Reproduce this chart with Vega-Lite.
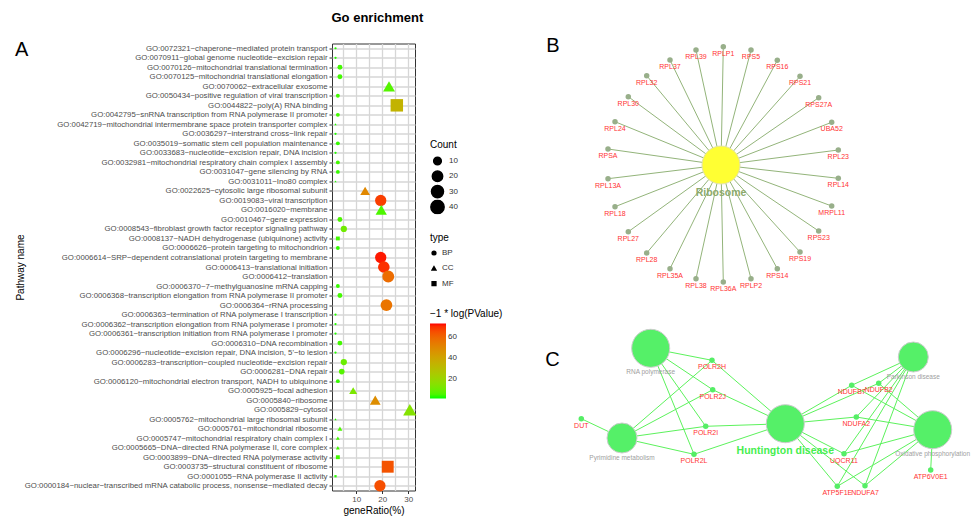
{
  "$schema": "https://vega.github.io/schema/vega-lite/v6.json",
  "background": "white",
  "padding": {"left": 14, "top": 11.5, "right": 0, "bottom": 0},
  "config": {
    "font": "Liberation Sans",
    "view": {"stroke": null},
    "title": {"font": "Liberation Sans"}
  },
  "title": {"text": "Go enrichment", "anchor": "start", "dx": 317, "fontSize": 13, "fontWeight": "bold", "offset": 11, "color": "black"},
  "datasets": {
    "go": [
      {"term": "GO:0072321~chaperone−mediated protein transport", "type": "BP", "geneRatio": 2.0, "Count": 3, "logP": 2},
      {"term": "GO:0070911~global genome nucleotide−excision repair", "type": "BP", "geneRatio": 2.0, "Count": 3, "logP": 2},
      {"term": "GO:0070126~mitochondrial translational termination", "type": "BP", "geneRatio": 3.7, "Count": 5, "logP": 4},
      {"term": "GO:0070125~mitochondrial translational elongation", "type": "BP", "geneRatio": 3.7, "Count": 5, "logP": 4},
      {"term": "GO:0070062~extracellular exosome", "type": "CC", "geneRatio": 22.6, "Count": 29, "logP": 6},
      {"term": "GO:0050434~positive regulation of viral transcription", "type": "BP", "geneRatio": 2.9, "Count": 4, "logP": 4},
      {"term": "GO:0044822~poly(A) RNA binding", "type": "MF", "geneRatio": 25.6, "Count": 33, "logP": 34},
      {"term": "GO:0042795~snRNA transcription from RNA polymerase II promoter", "type": "BP", "geneRatio": 2.9, "Count": 4, "logP": 4},
      {"term": "GO:0042719~mitochondrial intermembrane space protein transporter complex", "type": "CC", "geneRatio": 2.0, "Count": 3, "logP": 2},
      {"term": "GO:0036297~interstrand cross−link repair", "type": "BP", "geneRatio": 2.0, "Count": 3, "logP": 2},
      {"term": "GO:0035019~somatic stem cell population maintenance", "type": "BP", "geneRatio": 2.9, "Count": 4, "logP": 3},
      {"term": "GO:0033683~nucleotide−excision repair, DNA incision", "type": "BP", "geneRatio": 2.0, "Count": 3, "logP": 2},
      {"term": "GO:0032981~mitochondrial respiratory chain complex I assembly", "type": "BP", "geneRatio": 2.9, "Count": 4, "logP": 4},
      {"term": "GO:0031047~gene silencing by RNA", "type": "BP", "geneRatio": 2.9, "Count": 4, "logP": 3},
      {"term": "GO:0031011~Ino80 complex", "type": "CC", "geneRatio": 2.0, "Count": 3, "logP": 2},
      {"term": "GO:0022625~cytosolic large ribosomal subunit", "type": "CC", "geneRatio": 13.4, "Count": 17, "logP": 50},
      {"term": "GO:0019083~viral transcription", "type": "BP", "geneRatio": 19.4, "Count": 25, "logP": 68},
      {"term": "GO:0016020~membrane", "type": "CC", "geneRatio": 19.6, "Count": 25, "logP": 5},
      {"term": "GO:0010467~gene expression", "type": "BP", "geneRatio": 3.7, "Count": 5, "logP": 5},
      {"term": "GO:0008543~fibroblast growth factor receptor signaling pathway", "type": "BP", "geneRatio": 5.2, "Count": 7, "logP": 10},
      {"term": "GO:0008137~NADH dehydrogenase (ubiquinone) activity", "type": "MF", "geneRatio": 2.9, "Count": 4, "logP": 4},
      {"term": "GO:0006626~protein targeting to mitochondrion", "type": "BP", "geneRatio": 2.9, "Count": 4, "logP": 3},
      {"term": "GO:0006614~SRP−dependent cotranslational protein targeting to membrane", "type": "BP", "geneRatio": 19.4, "Count": 25, "logP": 72},
      {"term": "GO:0006413~translational initiation", "type": "BP", "geneRatio": 20.6, "Count": 27, "logP": 70},
      {"term": "GO:0006412~translation", "type": "BP", "geneRatio": 22.3, "Count": 29, "logP": 58},
      {"term": "GO:0006370~7−methylguanosine mRNA capping", "type": "BP", "geneRatio": 2.9, "Count": 4, "logP": 3},
      {"term": "GO:0006368~transcription elongation from RNA polymerase II promoter", "type": "BP", "geneRatio": 3.7, "Count": 5, "logP": 4},
      {"term": "GO:0006364~rRNA processing", "type": "BP", "geneRatio": 21.6, "Count": 28, "logP": 56},
      {"term": "GO:0006363~termination of RNA polymerase I transcription", "type": "BP", "geneRatio": 2.0, "Count": 3, "logP": 2},
      {"term": "GO:0006362~transcription elongation from RNA polymerase I promoter", "type": "BP", "geneRatio": 2.0, "Count": 3, "logP": 2},
      {"term": "GO:0006361~transcription initiation from RNA polymerase I promoter", "type": "BP", "geneRatio": 2.0, "Count": 3, "logP": 2},
      {"term": "GO:0006310~DNA recombination", "type": "BP", "geneRatio": 3.7, "Count": 5, "logP": 4},
      {"term": "GO:0006296~nucleotide−excision repair, DNA incision, 5'−to lesion", "type": "BP", "geneRatio": 2.0, "Count": 3, "logP": 2},
      {"term": "GO:0006283~transcription−coupled nucleotide−excision repair", "type": "BP", "geneRatio": 5.2, "Count": 7, "logP": 9},
      {"term": "GO:0006281~DNA repair", "type": "BP", "geneRatio": 4.4, "Count": 6, "logP": 6},
      {"term": "GO:0006120~mitochondrial electron transport, NADH to ubiquinone", "type": "BP", "geneRatio": 2.9, "Count": 4, "logP": 3},
      {"term": "GO:0005925~focal adhesion", "type": "CC", "geneRatio": 8.8, "Count": 11, "logP": 12},
      {"term": "GO:0005840~ribosome", "type": "CC", "geneRatio": 17.3, "Count": 22, "logP": 48},
      {"term": "GO:0005829~cytosol", "type": "CC", "geneRatio": 30.6, "Count": 40, "logP": 14},
      {"term": "GO:0005762~mitochondrial large ribosomal subunit", "type": "CC", "geneRatio": 2.0, "Count": 3, "logP": 2},
      {"term": "GO:0005761~mitochondrial ribosome", "type": "CC", "geneRatio": 3.7, "Count": 5, "logP": 5},
      {"term": "GO:0005747~mitochondrial respiratory chain complex I", "type": "CC", "geneRatio": 2.9, "Count": 4, "logP": 4},
      {"term": "GO:0005665~DNA−directed RNA polymerase II, core complex", "type": "CC", "geneRatio": 2.9, "Count": 4, "logP": 4},
      {"term": "GO:0003899~DNA−directed RNA polymerase activity", "type": "MF", "geneRatio": 2.9, "Count": 4, "logP": 4},
      {"term": "GO:0003735~structural constituent of ribosome", "type": "MF", "geneRatio": 22.1, "Count": 29, "logP": 64},
      {"term": "GO:0001055~RNA polymerase II activity", "type": "MF", "geneRatio": 2.0, "Count": 3, "logP": 2},
      {"term": "GO:0000184~nuclear−transcribed mRNA catabolic process, nonsense−mediated decay", "type": "BP", "geneRatio": 19.1, "Count": 25, "logP": 65}
    ],
    "nodes": [
      {"id": "Ribosome", "panel": "B", "kind": "pathway", "tier": "large", "x": 721, "y": 164},
      {"id": "RPLP1", "panel": "B", "kind": "gene", "x": 723.3, "y": 45.7},
      {"id": "RPS5", "panel": "B", "kind": "gene", "x": 751, "y": 49},
      {"id": "RPS16", "panel": "B", "kind": "gene", "x": 777.3, "y": 59.3},
      {"id": "RPS21", "panel": "B", "kind": "gene", "x": 800, "y": 75.3},
      {"id": "RPS27A", "panel": "B", "kind": "gene", "x": 818.7, "y": 96.7},
      {"id": "UBA52", "panel": "B", "kind": "gene", "x": 831.7, "y": 121.3},
      {"id": "RPL23", "panel": "B", "kind": "gene", "x": 838.3, "y": 149},
      {"id": "RPL14", "panel": "B", "kind": "gene", "x": 838.3, "y": 177.3},
      {"id": "MRPL11", "panel": "B", "kind": "gene", "x": 831.7, "y": 205},
      {"id": "RPS23", "panel": "B", "kind": "gene", "x": 818.7, "y": 230},
      {"id": "RPS19", "panel": "B", "kind": "gene", "x": 800, "y": 251},
      {"id": "RPS14", "panel": "B", "kind": "gene", "x": 777.3, "y": 267.7},
      {"id": "RPLP2", "panel": "B", "kind": "gene", "x": 751, "y": 277.7},
      {"id": "RPL36A", "panel": "B", "kind": "gene", "x": 723.3, "y": 281},
      {"id": "RPL38", "panel": "B", "kind": "gene", "x": 696, "y": 277.7},
      {"id": "RPL35A", "panel": "B", "kind": "gene", "x": 670, "y": 267.7},
      {"id": "RPL28", "panel": "B", "kind": "gene", "x": 646.7, "y": 252},
      {"id": "RPL27", "panel": "B", "kind": "gene", "x": 628.3, "y": 230.7},
      {"id": "RPL18", "panel": "B", "kind": "gene", "x": 615, "y": 205.7},
      {"id": "RPL13A", "panel": "B", "kind": "gene", "x": 608, "y": 177.7},
      {"id": "RPSA", "panel": "B", "kind": "gene", "x": 608, "y": 148},
      {"id": "RPL24", "panel": "B", "kind": "gene", "x": 615, "y": 120.7},
      {"id": "RPL30", "panel": "B", "kind": "gene", "x": 628.3, "y": 95.7},
      {"id": "RPL32", "panel": "B", "kind": "gene", "x": 646.7, "y": 74.7},
      {"id": "RPL37", "panel": "B", "kind": "gene", "x": 670, "y": 59},
      {"id": "RPL39", "panel": "B", "kind": "gene", "x": 696, "y": 49},
      {"id": "RNA polymerase", "panel": "C", "kind": "pathway", "tier": "large", "x": 650.7, "y": 347.3},
      {"id": "Pyrimidine metabolism", "panel": "C", "kind": "pathway", "tier": "medium", "x": 622, "y": 437},
      {"id": "Huntington disease", "panel": "C", "kind": "pathway", "tier": "large", "x": 785.3, "y": 422.7},
      {"id": "Parkinson disease", "panel": "C", "kind": "pathway", "tier": "medium", "x": 913.3, "y": 356},
      {"id": "Oxidative phosphorylation", "panel": "C", "kind": "pathway", "tier": "large", "x": 932.7, "y": 428.7},
      {"id": "POLR2H", "panel": "C", "kind": "gene", "x": 712, "y": 359.3},
      {"id": "POLR2J", "panel": "C", "kind": "gene", "x": 712.7, "y": 388.7},
      {"id": "DUT", "panel": "C", "kind": "gene", "x": 581.3, "y": 417.7},
      {"id": "POLR2I", "panel": "C", "kind": "gene", "x": 705.7, "y": 425.3},
      {"id": "POLR2L", "panel": "C", "kind": "gene", "x": 694, "y": 453.3},
      {"id": "NDUFB7", "panel": "C", "kind": "gene", "x": 851.7, "y": 384.3},
      {"id": "NDUFB2", "panel": "C", "kind": "gene", "x": 878.7, "y": 382.3},
      {"id": "NDUFA2", "panel": "C", "kind": "gene", "x": 856.3, "y": 416},
      {"id": "UQCR11", "panel": "C", "kind": "gene", "x": 844, "y": 452.7},
      {"id": "ATP6V0E1", "panel": "C", "kind": "gene", "x": 930.7, "y": 469},
      {"id": "ATP5F1E", "panel": "C", "kind": "gene", "x": 837.3, "y": 485.3},
      {"id": "NDUFA7", "panel": "C", "kind": "gene", "x": 865, "y": 484.7}
    ],
    "edges": [
      {"source": "Ribosome", "target": "RPLP1", "panel": "B"},
      {"source": "Ribosome", "target": "RPS5", "panel": "B"},
      {"source": "Ribosome", "target": "RPS16", "panel": "B"},
      {"source": "Ribosome", "target": "RPS21", "panel": "B"},
      {"source": "Ribosome", "target": "RPS27A", "panel": "B"},
      {"source": "Ribosome", "target": "UBA52", "panel": "B"},
      {"source": "Ribosome", "target": "RPL23", "panel": "B"},
      {"source": "Ribosome", "target": "RPL14", "panel": "B"},
      {"source": "Ribosome", "target": "MRPL11", "panel": "B"},
      {"source": "Ribosome", "target": "RPS23", "panel": "B"},
      {"source": "Ribosome", "target": "RPS19", "panel": "B"},
      {"source": "Ribosome", "target": "RPS14", "panel": "B"},
      {"source": "Ribosome", "target": "RPLP2", "panel": "B"},
      {"source": "Ribosome", "target": "RPL36A", "panel": "B"},
      {"source": "Ribosome", "target": "RPL38", "panel": "B"},
      {"source": "Ribosome", "target": "RPL35A", "panel": "B"},
      {"source": "Ribosome", "target": "RPL28", "panel": "B"},
      {"source": "Ribosome", "target": "RPL27", "panel": "B"},
      {"source": "Ribosome", "target": "RPL18", "panel": "B"},
      {"source": "Ribosome", "target": "RPL13A", "panel": "B"},
      {"source": "Ribosome", "target": "RPSA", "panel": "B"},
      {"source": "Ribosome", "target": "RPL24", "panel": "B"},
      {"source": "Ribosome", "target": "RPL30", "panel": "B"},
      {"source": "Ribosome", "target": "RPL32", "panel": "B"},
      {"source": "Ribosome", "target": "RPL37", "panel": "B"},
      {"source": "Ribosome", "target": "RPL39", "panel": "B"},
      {"source": "RNA polymerase", "target": "POLR2H", "panel": "C"},
      {"source": "RNA polymerase", "target": "POLR2J", "panel": "C"},
      {"source": "RNA polymerase", "target": "POLR2I", "panel": "C"},
      {"source": "RNA polymerase", "target": "POLR2L", "panel": "C"},
      {"source": "Pyrimidine metabolism", "target": "DUT", "panel": "C"},
      {"source": "Pyrimidine metabolism", "target": "POLR2H", "panel": "C"},
      {"source": "Pyrimidine metabolism", "target": "POLR2J", "panel": "C"},
      {"source": "Pyrimidine metabolism", "target": "POLR2I", "panel": "C"},
      {"source": "Pyrimidine metabolism", "target": "POLR2L", "panel": "C"},
      {"source": "Huntington disease", "target": "POLR2H", "panel": "C"},
      {"source": "Huntington disease", "target": "POLR2J", "panel": "C"},
      {"source": "Huntington disease", "target": "POLR2I", "panel": "C"},
      {"source": "Huntington disease", "target": "POLR2L", "panel": "C"},
      {"source": "Huntington disease", "target": "NDUFB7", "panel": "C"},
      {"source": "Huntington disease", "target": "NDUFB2", "panel": "C"},
      {"source": "Huntington disease", "target": "NDUFA2", "panel": "C"},
      {"source": "Huntington disease", "target": "UQCR11", "panel": "C"},
      {"source": "Huntington disease", "target": "ATP5F1E", "panel": "C"},
      {"source": "Huntington disease", "target": "NDUFA7", "panel": "C"},
      {"source": "Parkinson disease", "target": "NDUFB7", "panel": "C"},
      {"source": "Parkinson disease", "target": "NDUFB2", "panel": "C"},
      {"source": "Parkinson disease", "target": "NDUFA2", "panel": "C"},
      {"source": "Parkinson disease", "target": "UQCR11", "panel": "C"},
      {"source": "Parkinson disease", "target": "ATP5F1E", "panel": "C"},
      {"source": "Parkinson disease", "target": "NDUFA7", "panel": "C"},
      {"source": "Oxidative phosphorylation", "target": "NDUFB7", "panel": "C"},
      {"source": "Oxidative phosphorylation", "target": "NDUFB2", "panel": "C"},
      {"source": "Oxidative phosphorylation", "target": "NDUFA2", "panel": "C"},
      {"source": "Oxidative phosphorylation", "target": "UQCR11", "panel": "C"},
      {"source": "Oxidative phosphorylation", "target": "ATP5F1E", "panel": "C"},
      {"source": "Oxidative phosphorylation", "target": "NDUFA7", "panel": "C"},
      {"source": "Oxidative phosphorylation", "target": "ATP6V0E1", "panel": "C"}
    ],
    "letters": [
      {"letter": "B", "x": 553, "y": 45},
      {"letter": "C", "x": 552.5, "y": 359}
    ]
  },
  "spacing": 86,
  "hconcat": [
    {
      "width": 83,
      "height": 447,
      "title": {"text": "A", "anchor": "start", "frame": "bounds", "fontSize": 20, "fontWeight": "normal", "dy": 20, "color": "black"},
      "view": {"stroke": "#333333", "strokeWidth": 1},
      "data": {"name": "go"},
      "mark": {"type": "point", "filled": true, "opacity": 1},
      "encoding": {
        "y": {
          "field": "term", "type": "nominal", "sort": "descending",
          "scale": {"type": "point", "padding": 0.5},
          "axis": {
            "title": "Pathway name", "titleFontSize": 10, "titleFontWeight": "normal", "titleColor": "black",
            "titleX": -309, "titleY": 223.5, "titleAngle": -90, "titleBaseline": "alphabetic", "titleAlign": "center",
            "labelFontSize": 7.8, "labelColor": "#4D4D4D", "labelLimit": 400, "labelPadding": 2,
            "tickColor": "#333333", "tickSize": 3, "domain": false,
            "grid": true, "gridColor": "#D6D6D6", "gridWidth": 1.3
          }
        },
        "x": {
          "field": "geneRatio", "type": "quantitative",
          "scale": {"domain": [0.65, 32.6], "nice": false, "zero": false},
          "axis": {
            "title": "geneRatio(%)", "titleFontSize": 10, "titleFontWeight": "normal", "titleColor": "black", "titlePadding": 2,
            "values": [5, 10, 15, 20, 25, 30],
            "labelExpr": "datum.value % 10 === 0 ? datum.label : ''",
            "tickOpacity": {"condition": {"test": "datum.value % 10 === 0", "value": 1}, "value": 0},
            "labelFontSize": 8, "labelColor": "#4D4D4D", "tickColor": "#333333", "tickSize": 3, "domain": false,
            "grid": true, "gridColor": "#D6D6D6", "gridWidth": 1.3
          }
        },
        "size": {
          "field": "Count", "type": "quantitative",
          "scale": {"type": "sqrt", "domain": [3, 40], "range": [5, 177], "zero": false},
          "legend": {
            "title": "Count", "orient": "none", "legendX": 98, "legendY": 96, "direction": "vertical",
            "values": [10, 20, 30, 40], "symbolType": "circle", "symbolFillColor": "black", "symbolStrokeColor": "black",
            "clipHeight": 15, "rowPadding": 0.3, "labelFontSize": 8, "labelColor": "#333333",
            "titleFontSize": 10, "titleFontWeight": "normal", "titleColor": "black", "titlePadding": 4
          }
        },
        "shape": {
          "field": "type", "type": "nominal",
          "scale": {"domain": ["BP", "CC", "MF"], "range": ["circle", "triangle-up", "square"]},
          "legend": {
            "title": "type", "orient": "none", "legendX": 98, "legendY": 189, "direction": "vertical",
            "symbolSize": 14, "symbolFillColor": "black", "symbolStrokeColor": "black",
            "clipHeight": 15, "rowPadding": 0.3, "labelFontSize": 8, "labelColor": "#333333",
            "titleFontSize": 10, "titleFontWeight": "normal", "titleColor": "black", "titlePadding": 3
          }
        },
        "color": {
          "field": "logP", "type": "quantitative",
          "scale": {"domain": [1, 73], "range": ["#00FF00", "#FF0000"], "interpolate": "lab"},
          "legend": {
            "title": "−1 * log(PValue)", "orient": "none", "legendX": 98, "legendY": 265, "direction": "vertical",
            "gradientLength": 75, "gradientThickness": 16, "gradientStrokeWidth": 0, "values": [20, 40, 60],
            "labelFontSize": 8, "labelColor": "#333333",
            "titleFontSize": 10, "titleFontWeight": "normal", "titleColor": "black", "titlePadding": 5
          }
        }
      }
    },
    {
      "width": 430,
      "height": 470,
      "view": {"stroke": null},
      "encoding": {
        "x": {"field": "x", "type": "quantitative", "scale": {"domain": [545, 975], "nice": false, "zero": false}, "axis": null},
        "y": {"field": "y", "type": "quantitative", "scale": {"domain": [42.5, 512.5], "nice": false, "zero": false, "reverse": true}, "axis": null}
      },
      "layer": [
        {
          "data": {"name": "edges"},
          "transform": [
            {"filter": "datum.panel === 'B'"},
            {"lookup": "source", "from": {"data": {"name": "nodes"}, "key": "id", "fields": ["x", "y"]}, "as": ["sx", "sy"]},
            {"lookup": "target", "from": {"data": {"name": "nodes"}, "key": "id", "fields": ["x", "y"]}, "as": ["tx", "ty"]}
          ],
          "mark": {"type": "rule", "color": "#93B47A", "strokeWidth": 1},
          "encoding": {
            "x": {"field": "sx", "type": "quantitative"},
            "y": {"field": "sy", "type": "quantitative"},
            "x2": {"field": "tx"},
            "y2": {"field": "ty"}
          }
        },
        {
          "data": {"name": "edges"},
          "transform": [
            {"filter": "datum.panel === 'C'"},
            {"lookup": "source", "from": {"data": {"name": "nodes"}, "key": "id", "fields": ["x", "y"]}, "as": ["sx", "sy"]},
            {"lookup": "target", "from": {"data": {"name": "nodes"}, "key": "id", "fields": ["x", "y"]}, "as": ["tx", "ty"]}
          ],
          "mark": {"type": "rule", "color": "#5CF25C", "strokeWidth": 1},
          "encoding": {
            "x": {"field": "sx", "type": "quantitative"},
            "y": {"field": "sy", "type": "quantitative"},
            "x2": {"field": "tx"},
            "y2": {"field": "ty"}
          }
        },
        {
          "data": {"name": "nodes"},
          "transform": [{"filter": "datum.kind === 'gene' && datum.panel === 'B'"}],
          "mark": {"type": "point", "filled": true, "color": "#98AF8A", "size": 30, "opacity": 1}
        },
        {
          "data": {"name": "nodes"},
          "transform": [{"filter": "datum.kind === 'gene' && datum.panel === 'C'"}],
          "mark": {"type": "point", "filled": true, "color": "#55EE66", "size": 30, "opacity": 1}
        },
        {
          "data": {"name": "nodes"},
          "transform": [{"filter": "datum.kind === 'pathway' && datum.panel === 'B'"}],
          "mark": {"type": "point", "filled": true, "fill": "#FFFF33", "stroke": "#E2E2A8", "strokeWidth": 1, "size": 1444, "opacity": 1}
        },
        {
          "data": {"name": "nodes"},
          "transform": [{"filter": "datum.kind === 'pathway' && datum.panel === 'C'"}],
          "mark": {"type": "point", "filled": true, "fill": "#55F068", "stroke": "#CCCCCC", "strokeWidth": 1, "opacity": 1},
          "encoding": {
            "size": {"field": "tier", "type": "nominal", "scale": {"domain": ["large", "medium"], "range": [1444, 900]}, "legend": null}
          }
        },
        {
          "data": {"name": "nodes"},
          "transform": [{"filter": "datum.kind === 'gene'"}],
          "mark": {"type": "text", "color": "#FF3333", "fontSize": 7, "dy": 7},
          "encoding": {"text": {"field": "id"}}
        },
        {
          "data": {"name": "nodes"},
          "transform": [{"filter": "datum.id === 'Ribosome'"}],
          "mark": {"type": "text", "color": "#8DAA6C", "fontSize": 10.5, "fontWeight": "bold", "dy": 28},
          "encoding": {"text": {"field": "id"}}
        },
        {
          "data": {"name": "nodes"},
          "transform": [{"filter": "datum.panel === 'C' && datum.kind === 'pathway' && datum.tier === 'large' && datum.id !== 'Huntington disease'"}],
          "mark": {"type": "text", "color": "#A0A0A0", "fontSize": 6.5, "dy": 24},
          "encoding": {"text": {"field": "id"}}
        },
        {
          "data": {"name": "nodes"},
          "transform": [{"filter": "datum.panel === 'C' && datum.kind === 'pathway' && datum.tier === 'medium'"}],
          "mark": {"type": "text", "color": "#A0A0A0", "fontSize": 6.5, "dy": 20},
          "encoding": {"text": {"field": "id"}}
        },
        {
          "data": {"name": "nodes"},
          "transform": [{"filter": "datum.id === 'Huntington disease'"}],
          "mark": {"type": "text", "color": "#47EE50", "fontSize": 10.5, "fontWeight": "bold", "dy": 27},
          "encoding": {"text": {"field": "id"}}
        },
        {
          "data": {"name": "letters"},
          "mark": {"type": "text", "color": "black", "fontSize": 20},
          "encoding": {"text": {"field": "letter"}}
        }
      ]
    }
  ]
}
